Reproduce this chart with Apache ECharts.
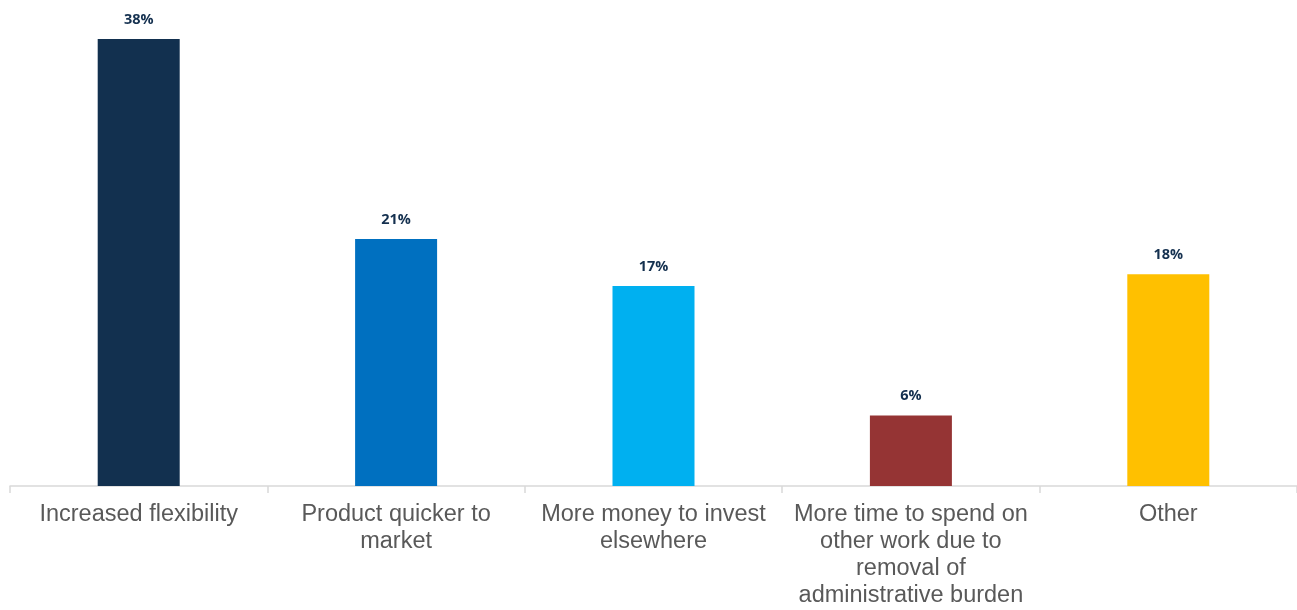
<!DOCTYPE html>
<html>
<head>
<meta charset="utf-8">
<script src="https://cdn.jsdelivr.net/npm/echarts@6/dist/echarts.min.js"></script>
<style>
html,body{margin:0;padding:0;background:#fff;}
#chart{width:1297px;height:610px;}
</style>
</head>
<body>
<div id="chart"></div>
<script>
const categories = [
  "Increased flexibility",
  "Product quicker to\nmarket",
  "More money to invest\nelsewhere",
  "More time to spend on\nother work due to\nremoval of\nadministrative burden",
  "Other"
];
const values = [38, 21, 17, 6, 18];
const barColors = ["#12304F", "#0070C0", "#00B0F0", "#953434", "#FFC000"];

const chart = echarts.init(document.getElementById('chart'), null, {renderer: 'canvas'});
chart.setOption({
  animation: false,
  backgroundColor: '#ffffff',
  grid: {left: 10, right: 0, top: 15.4, bottom: 124, containLabel: false},
  xAxis: {
    type: 'category',
    data: categories,
    axisLine: {show: true, lineStyle: {color: '#D9D9D9', width: 1.5}},
    axisTick: {show: true, length: 7, lineStyle: {color: '#D9D9D9', width: 1.5}},
    axisLabel: {
      interval: 0,
      margin: 15,
      color: '#595959',
      fontFamily: "'Liberation Sans', Arial, sans-serif",
      fontSize: 23.5,
      lineHeight: 27,
      align: 'center'
    }
  },
  yAxis: {
    type: 'value',
    min: 0,
    max: 40,
    show: false,
    splitLine: {show: false}
  },
  series: [{
    type: 'bar',
    data: values.map((v, i) => ({value: v, itemStyle: {color: barColors[i]}})),
    barWidth: 82,
    label: {
      show: true,
      position: 'top',
      distance: 12,
      formatter: '{c}%',
      color: '#14304F',
      fontFamily: "'Open Sans', 'Noto Sans', sans-serif",
      fontWeight: 'bold',
      fontSize: 14.5
    }
  }]
});
</script>
</body>
</html>
